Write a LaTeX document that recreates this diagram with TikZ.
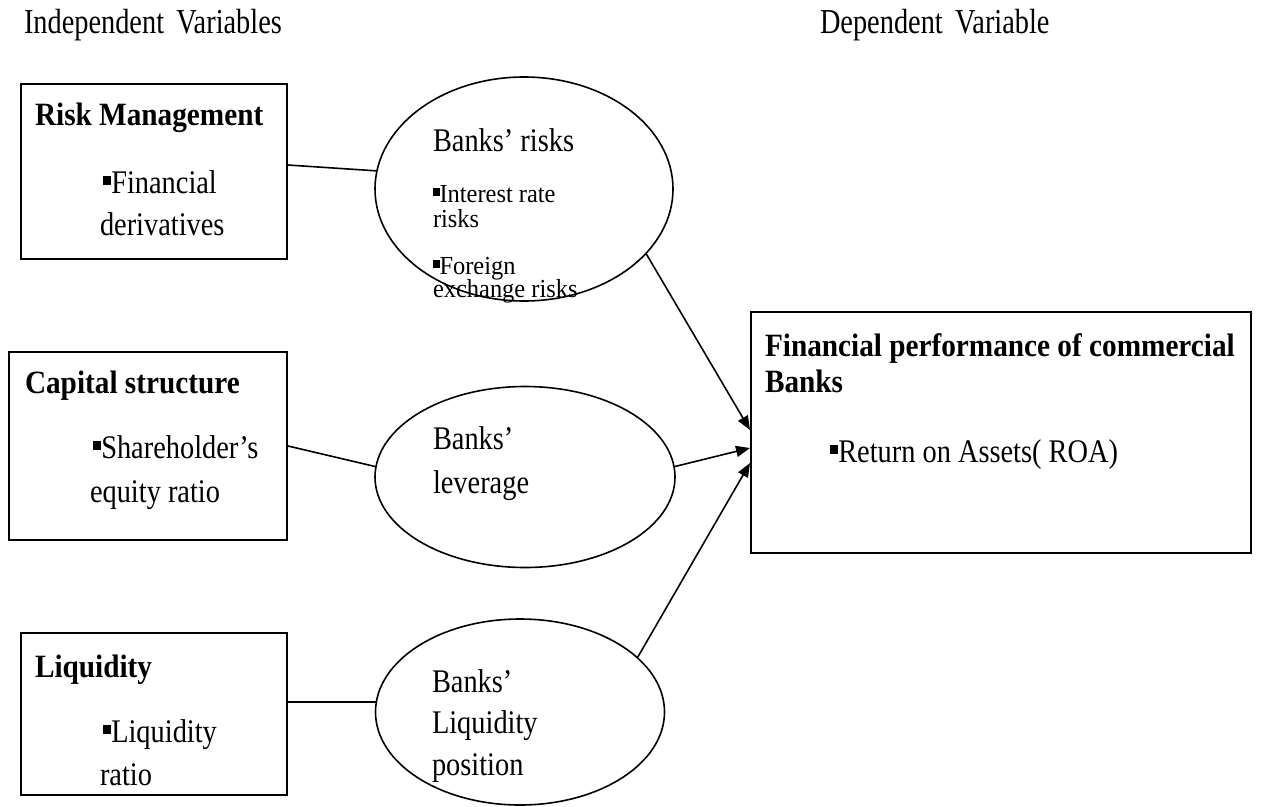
\documentclass[tikz,border=0pt]{standalone}
\usepackage{fontspec}
\setmainfont{Liberation Serif}
\newfontfamily\bodyf[FakeStretch=0.86]{Liberation Serif}
\newfontfamily\boldf[FakeStretch=0.9]{Liberation Serif}
\newfontfamily\hdrf[FakeStretch=0.81]{Liberation Serif}
\newfontfamily\smallf[FakeStretch=0.94]{Liberation Serif}
\usetikzlibrary{shapes.geometric,arrows.meta}
\newcommand\sqb{\raisebox{0.24em}{\rule{0.25em}{0.29em}}}
\tikzset{
  boxn/.style={draw, rectangle, line width=2pt, inner sep=0pt},
  elln/.style={draw, ellipse, line width=1.6pt, inner sep=0pt},
  txt/.style={anchor=base west, inner sep=0pt, outer sep=0pt},
  bodyt/.style={txt, font=\bodyf\fontsize{33}{40}\selectfont},
  boldt/.style={txt, font=\boldf\bfseries\fontsize{32.5}{40}\selectfont},
  hdrt/.style={txt, font=\hdrf\fontsize{35}{42}\selectfont},
  smallt/.style={txt, font=\smallf\fontsize{26}{28}\selectfont},
  link/.style={line width=1.6pt},
  arr/.style={link, -{Triangle[length=14pt,width=11pt]}}
}
\begin{document}
\begin{tikzpicture}[x=1pt,y=-1pt]
\useasboundingbox (0,0) rectangle (1273,806);
% headers
\node[hdrt] (h1) at (24,33) {Independent\hspace{0.35em}Variables};
\node[hdrt] (h2) at (820,33) {Dependent\hspace{0.35em}Variable};
% boxes
\node[boxn, minimum width=266pt, minimum height=175pt] (b1) at (154,171.5) {};
\node[boxn, minimum width=278pt, minimum height=188pt] (b2) at (148,446) {};
\node[boxn, minimum width=266pt, minimum height=162pt] (b3) at (154,714) {};
\node[boxn, minimum width=500pt, minimum height=241pt] (bR) at (1001,432.5) {};
% ellipses
\node[elln, minimum width=298pt, minimum height=224pt] (e1) at (524,189) {};
\node[elln, minimum width=300pt, minimum height=181pt] (e2) at (525,477) {};
\node[elln, minimum width=289pt, minimum height=186pt] (e3) at (520,712) {};
% box texts
\node[boldt] (t1a) at (35,125) {Risk Management};
\node[bodyt] (t1b) at (103,193) {\sqb Financial};
\node[bodyt] (t1c) at (100,235) {derivatives};
\node[boldt] (t2a) at (25,393) {Capital structure};
\node[bodyt] (t2b) at (93,458) {\sqb Shareholder’s};
\node[bodyt] (t2c) at (90,502) {equity ratio};
\node[boldt] (t3a) at (35,677) {Liquidity};
\node[bodyt] (t3b) at (103,742) {\sqb Liquidity};
\node[bodyt] (t3c) at (100,785) {ratio};
\node[boldt] (tRa) at (765,356) {Financial performance of commercial};
\node[boldt] (tRb) at (765,392) {Banks};
\node[bodyt] (tRc) at (830,462) {\sqb Return on Assets( ROA)};
% ellipse texts
\node[bodyt] (u1a) at (433,151) {Banks’ risks};
\node[smallt] (u1b) at (433,202) {\sqb Interest rate};
\node[smallt] (u1c) at (433,227) {risks};
\node[smallt] (u1d) at (433,274) {\sqb Foreign};
\node[smallt] (u1e) at (433,297) {exchange risks};
\node[bodyt] (u2a) at (433,449) {Banks’};
\node[bodyt] (u2b) at (433,493) {leverage};
\node[bodyt] (u3a) at (432,692) {Banks’};
\node[bodyt] (u3b) at (432,733) {Liquidity};
\node[bodyt] (u3c) at (432,775) {position};
% connectors
\draw[link] ([yshift=6.5pt]b1.east) -- (e1.173);
\draw[link] (b2.east) -- (e2.176);
\draw[link] (b3.east |- e3.176) -- (e3.176);
\draw[arr] (e1.-28) -- ([yshift=2.5pt]bR.west);
\draw[arr] (e2.4) -- ([yshift=-15.5pt]bR.west);
\draw[arr] (e3.25) -- ([yshift=-30.5pt]bR.west);
\end{tikzpicture}
\end{document}
